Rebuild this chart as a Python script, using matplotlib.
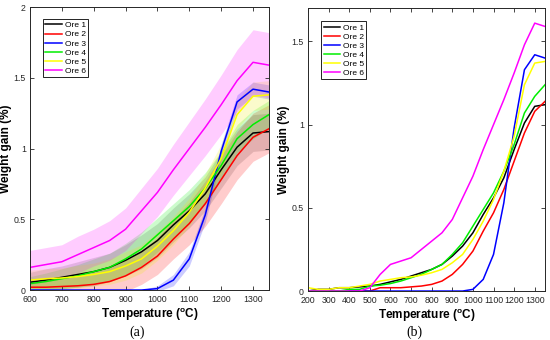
import numpy as np
import matplotlib
matplotlib.use('Agg')
import matplotlib.pyplot as plt

plt.rcParams['font.family'] = ['Liberation Sans', 'DejaVu Sans']
plt.rcParams['mathtext.fontset'] = 'custom'
plt.rcParams['mathtext.rm'] = 'Liberation Sans'
plt.rcParams['mathtext.bf'] = 'Liberation Sans:bold'

# temperature grid (°C) the values were read at
temp = [200, 250, 300, 350, 400, 450, 500, 550, 600, 650, 700, 750, 800, 850,
        900, 950, 1000, 1050, 1100, 1150, 1200, 1250, 1300, 1350]

# mean weight gain (%) per ore
ore1 = [0.0, 0.01, 0.01, 0.02, 0.02, 0.025, 0.03, 0.04, 0.055, 0.07, 0.09, 0.11, 0.13, 0.16,
        0.21, 0.27, 0.35, 0.46, 0.56, 0.68, 0.85, 1.01, 1.11, 1.12]
ore2 = [0.0, 0.0, 0.0, 0.0, 0.0, 0.0, 0.0, 0.02, 0.02, 0.02, 0.025, 0.03, 0.04, 0.06,
        0.1, 0.16, 0.24, 0.36, 0.47, 0.61, 0.78, 0.95, 1.08, 1.14]
ore3 = [0.0, 0.0, 0.0, 0.0, 0.0, 0.0, 0.0, 0.0, 0.0, 0.0, 0.0, 0.0, 0.0, 0.0,
        0.0, 0.0, 0.01, 0.07, 0.22, 0.53, 0.98, 1.33, 1.42, 1.40]
ore4 = [0.0, 0.0, 0.0, 0.0, 0.01, 0.01, 0.03, 0.035, 0.045, 0.06, 0.08, 0.1, 0.13, 0.16,
        0.22, 0.29, 0.39, 0.49, 0.59, 0.72, 0.88, 1.07, 1.17, 1.24]
ore5 = [0.02, 0.01, 0.01, 0.02, 0.02, 0.03, 0.04, 0.06, 0.07, 0.08, 0.085, 0.095, 0.11, 0.13,
        0.17, 0.22, 0.31, 0.42, 0.55, 0.72, 0.93, 1.24, 1.37, 1.38]
ore6 = [0.0, 0.0, 0.0, 0.0, 0.0, 0.0, 0.02, 0.1, 0.16, 0.18, 0.2, 0.25, 0.3, 0.35,
        0.43, 0.56, 0.69, 0.85, 1.0, 1.15, 1.31, 1.48, 1.61, 1.59]

# standard deviation (%) used for the bands in (a)
std1 = [0.0, 0.0, 0.0, 0.0, 0.0, 0.0, 0.03, 0.05, 0.07, 0.08, 0.08, 0.09, 0.1, 0.1,
        0.11, 0.12, 0.12, 0.12, 0.12, 0.12, 0.13, 0.13, 0.13, 0.13]
std2 = [0.0, 0.0, 0.0, 0.0, 0.0, 0.0, 0.02, 0.04, 0.05, 0.06, 0.07, 0.08, 0.09, 0.1,
        0.11, 0.12, 0.13, 0.14, 0.15, 0.16, 0.17, 0.17, 0.17, 0.17]
std3 = [0.0, 0.0, 0.0, 0.0, 0.0, 0.0, 0.0, 0.0, 0.0, 0.0, 0.0, 0.0, 0.0, 0.0,
        0.0, 0.0, 0.02, 0.04, 0.05, 0.05, 0.05, 0.05, 0.05, 0.05]
std4 = [0.0, 0.0, 0.0, 0.0, 0.0, 0.0, 0.03, 0.04, 0.05, 0.06, 0.07, 0.08, 0.09, 0.1,
        0.11, 0.12, 0.12, 0.12, 0.12, 0.11, 0.1, 0.1, 0.1, 0.1]
std5 = [0.0, 0.0, 0.0, 0.0, 0.0, 0.0, 0.03, 0.05, 0.07, 0.07, 0.07, 0.08, 0.08, 0.09,
        0.1, 0.1, 0.1, 0.1, 0.1, 0.1, 0.1, 0.1, 0.1, 0.1]
std6 = [0.0, 0.0, 0.0, 0.0, 0.0, 0.0, 0.05, 0.1, 0.12, 0.12, 0.12, 0.13, 0.13, 0.14,
        0.15, 0.16, 0.17, 0.18, 0.19, 0.2, 0.21, 0.22, 0.23, 0.23]

labels = ['Ore 1', 'Ore 2', 'Ore 3', 'Ore 4', 'Ore 5', 'Ore 6']
colors = ['black', 'red', 'blue', '#00ee00', '#ffff00', 'magenta']
band_colors = ['#555555', 'red', 'blue', '#00ee00', '#eeee00', 'magenta']
means = [ore1, ore2, ore3, ore4, ore5, ore6]
stds = [std1, std2, std3, std4, std5, std6]

tick_color = '#262626'

fig = plt.figure(figsize=(5.5, 3.4), dpi=100)
ax1 = fig.add_axes([0.0545, 0.147, 0.4345, 0.832])
ax2 = fig.add_axes([0.560, 0.144, 0.431, 0.832])

t = np.array(temp)
mask = t >= 600
for m, s, bc in zip(means, stds, band_colors):
    m = np.array(m)
    s = np.array(s)
    ax1.fill_between(t[mask], (m - s)[mask], (m + s)[mask], color=bc,
                     alpha=0.2, linewidth=0)
for m, c, lab in zip(means, colors, labels):
    m = np.array(m)
    ax1.plot(t[mask], m[mask], color=c, lw=1.1, label=lab)
    ax2.plot(t, m, color=c, lw=1.1, label=lab)

ax1.set_xlim(600, 1350)
ax1.set_ylim(0, 2)
ax1.set_xticks(range(600, 1301, 100))
ax1.set_yticks([0, 0.5, 1, 1.5, 2])
ax1.set_yticklabels(['0', '0.5', '1', '1.5', '2'])

ax2.set_xlim(200, 1350)
ax2.set_ylim(0, 1.7)
ax2.set_xticks(range(200, 1301, 100))
ax2.set_yticks([0, 0.5, 1, 1.5])
ax2.set_yticklabels(['0', '0.5', '1', '1.5'])

for ax, tag, anchor in [(ax1, '(a)', (0.054, 0.958)), (ax2, '(b)', (0.055, 0.954))]:
    ax.tick_params(direction='in', length=3, width=0.6, labelsize=6.3,
                   colors=tick_color, top=True, right=True, pad=2)
    ax.tick_params(axis='x', pad=3.5)
    ax.tick_params(axis='y', pad=3)
    for sp in ax.spines.values():
        sp.set_linewidth(0.7)
        sp.set_color(tick_color)
    ax.set_xlabel(r'Temperature ($\mathbf{^{o}}$C)', fontsize=8.5,
                  fontweight='bold', labelpad=2)
    ax.set_ylabel('Weight gain (%)', fontsize=8.5, fontweight='bold', labelpad=1)
    leg = ax.legend(loc='upper left', bbox_to_anchor=anchor, fontsize=6,
                    handlelength=2.0, borderaxespad=0, labelspacing=0.15,
                    borderpad=0.3, handletextpad=0.3, fancybox=False, framealpha=1)
    leg.get_frame().set_edgecolor('black')
    leg.get_frame().set_linewidth(0.6)
    bb = ax.get_position()
    fig.text(bb.x0 + bb.width * 0.45, 0.024, tag, ha='center', va='center',
             fontsize=10, family='Liberation Serif')

fig.savefig('out.png', dpi=100)
